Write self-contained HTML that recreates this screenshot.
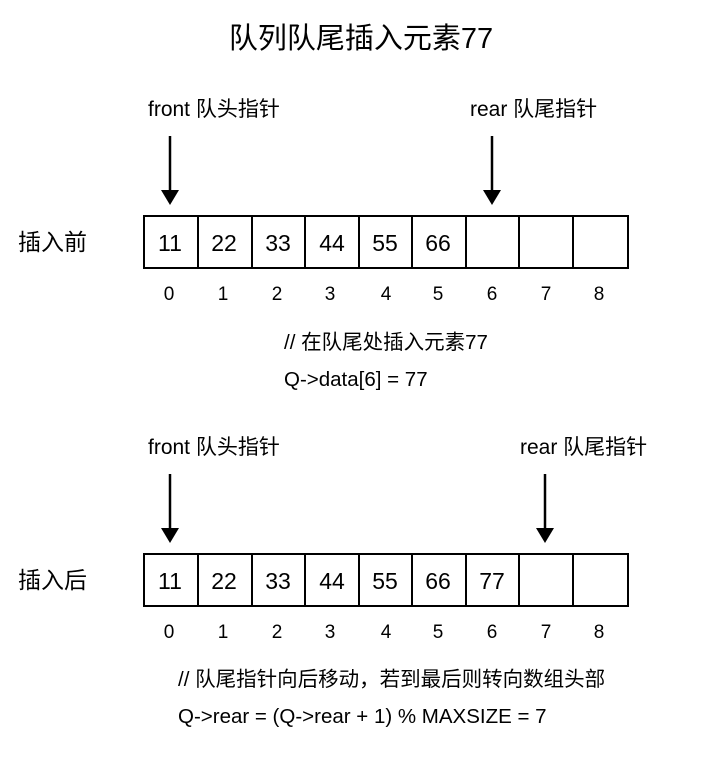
<!DOCTYPE html>
<html><head><meta charset="utf-8"><style>
body{margin:0;background:#fff;width:722px;height:774px;overflow:hidden}
svg text{font-family:"Liberation Sans","Noto Sans CJK SC",sans-serif;fill:#000}
</style></head><body>
<svg width="722" height="774" xmlns="http://www.w3.org/2000/svg">
<text x="361" y="48" font-size="29" text-anchor="middle">队列队尾插入元素77</text>

<text x="148" y="116" font-size="21">front 队头指针</text>
<text x="470" y="116" font-size="21">rear 队尾指针</text>
<line x1="170" y1="136" x2="170" y2="192" stroke="#000" stroke-width="2.5"/>
<polygon points="161,190 179,190 170,205" fill="#000"/>
<line x1="492" y1="136" x2="492" y2="192" stroke="#000" stroke-width="2.5"/>
<polygon points="483,190 501,190 492,205" fill="#000"/>
<text x="18" y="250" font-size="23">插入前</text>
<g stroke="#000" stroke-width="2" fill="none">
<rect x="144" y="216" width="484" height="52"/>
<line x1="198" y1="216" x2="198" y2="268"/><line x1="252" y1="216" x2="252" y2="268"/><line x1="305" y1="216" x2="305" y2="268"/><line x1="359" y1="216" x2="359" y2="268"/><line x1="412" y1="216" x2="412" y2="268"/><line x1="466" y1="216" x2="466" y2="268"/><line x1="519" y1="216" x2="519" y2="268"/><line x1="573" y1="216" x2="573" y2="268"/>
</g>
<g font-size="23" text-anchor="middle">
<text x="170" y="251">11</text><text x="224" y="251">22</text><text x="278" y="251">33</text><text x="332" y="251">44</text><text x="385" y="251">55</text><text x="438" y="251">66</text>
</g>
<g font-size="19" text-anchor="middle">
<text x="169" y="300">0</text><text x="223" y="300">1</text><text x="277" y="300">2</text><text x="330" y="300">3</text><text x="386" y="300">4</text><text x="438" y="300">5</text><text x="492" y="300">6</text><text x="546" y="300">7</text><text x="599" y="300">8</text>
</g>
<text x="284" y="349" font-size="20.5">// 在队尾处插入元素77</text>
<text x="284" y="386" font-size="20.5">Q-&gt;data[6] = 77</text>

<text x="148" y="454" font-size="21">front 队头指针</text>
<text x="520" y="454" font-size="21">rear 队尾指针</text>
<line x1="170" y1="474" x2="170" y2="530" stroke="#000" stroke-width="2.5"/>
<polygon points="161,528 179,528 170,543" fill="#000"/>
<line x1="545" y1="474" x2="545" y2="530" stroke="#000" stroke-width="2.5"/>
<polygon points="536,528 554,528 545,543" fill="#000"/>
<text x="18" y="588" font-size="23">插入后</text>
<g stroke="#000" stroke-width="2" fill="none">
<rect x="144" y="554" width="484" height="52"/>
<line x1="198" y1="554" x2="198" y2="606"/><line x1="252" y1="554" x2="252" y2="606"/><line x1="305" y1="554" x2="305" y2="606"/><line x1="359" y1="554" x2="359" y2="606"/><line x1="412" y1="554" x2="412" y2="606"/><line x1="466" y1="554" x2="466" y2="606"/><line x1="519" y1="554" x2="519" y2="606"/><line x1="573" y1="554" x2="573" y2="606"/>
</g>
<g font-size="23" text-anchor="middle">
<text x="170" y="589">11</text><text x="224" y="589">22</text><text x="278" y="589">33</text><text x="332" y="589">44</text><text x="385" y="589">55</text><text x="438" y="589">66</text><text x="492" y="589">77</text>
</g>
<g font-size="19" text-anchor="middle">
<text x="169" y="638">0</text><text x="223" y="638">1</text><text x="277" y="638">2</text><text x="330" y="638">3</text><text x="386" y="638">4</text><text x="438" y="638">5</text><text x="492" y="638">6</text><text x="546" y="638">7</text><text x="599" y="638">8</text>
</g>
<text x="178" y="686" font-size="20.5">// 队尾指针向后移动，若到最后则转向数组头部</text>
<text x="178" y="723" font-size="20.5">Q-&gt;rear = (Q-&gt;rear + 1) % MAXSIZE = 7</text>
</svg>
</body></html>
